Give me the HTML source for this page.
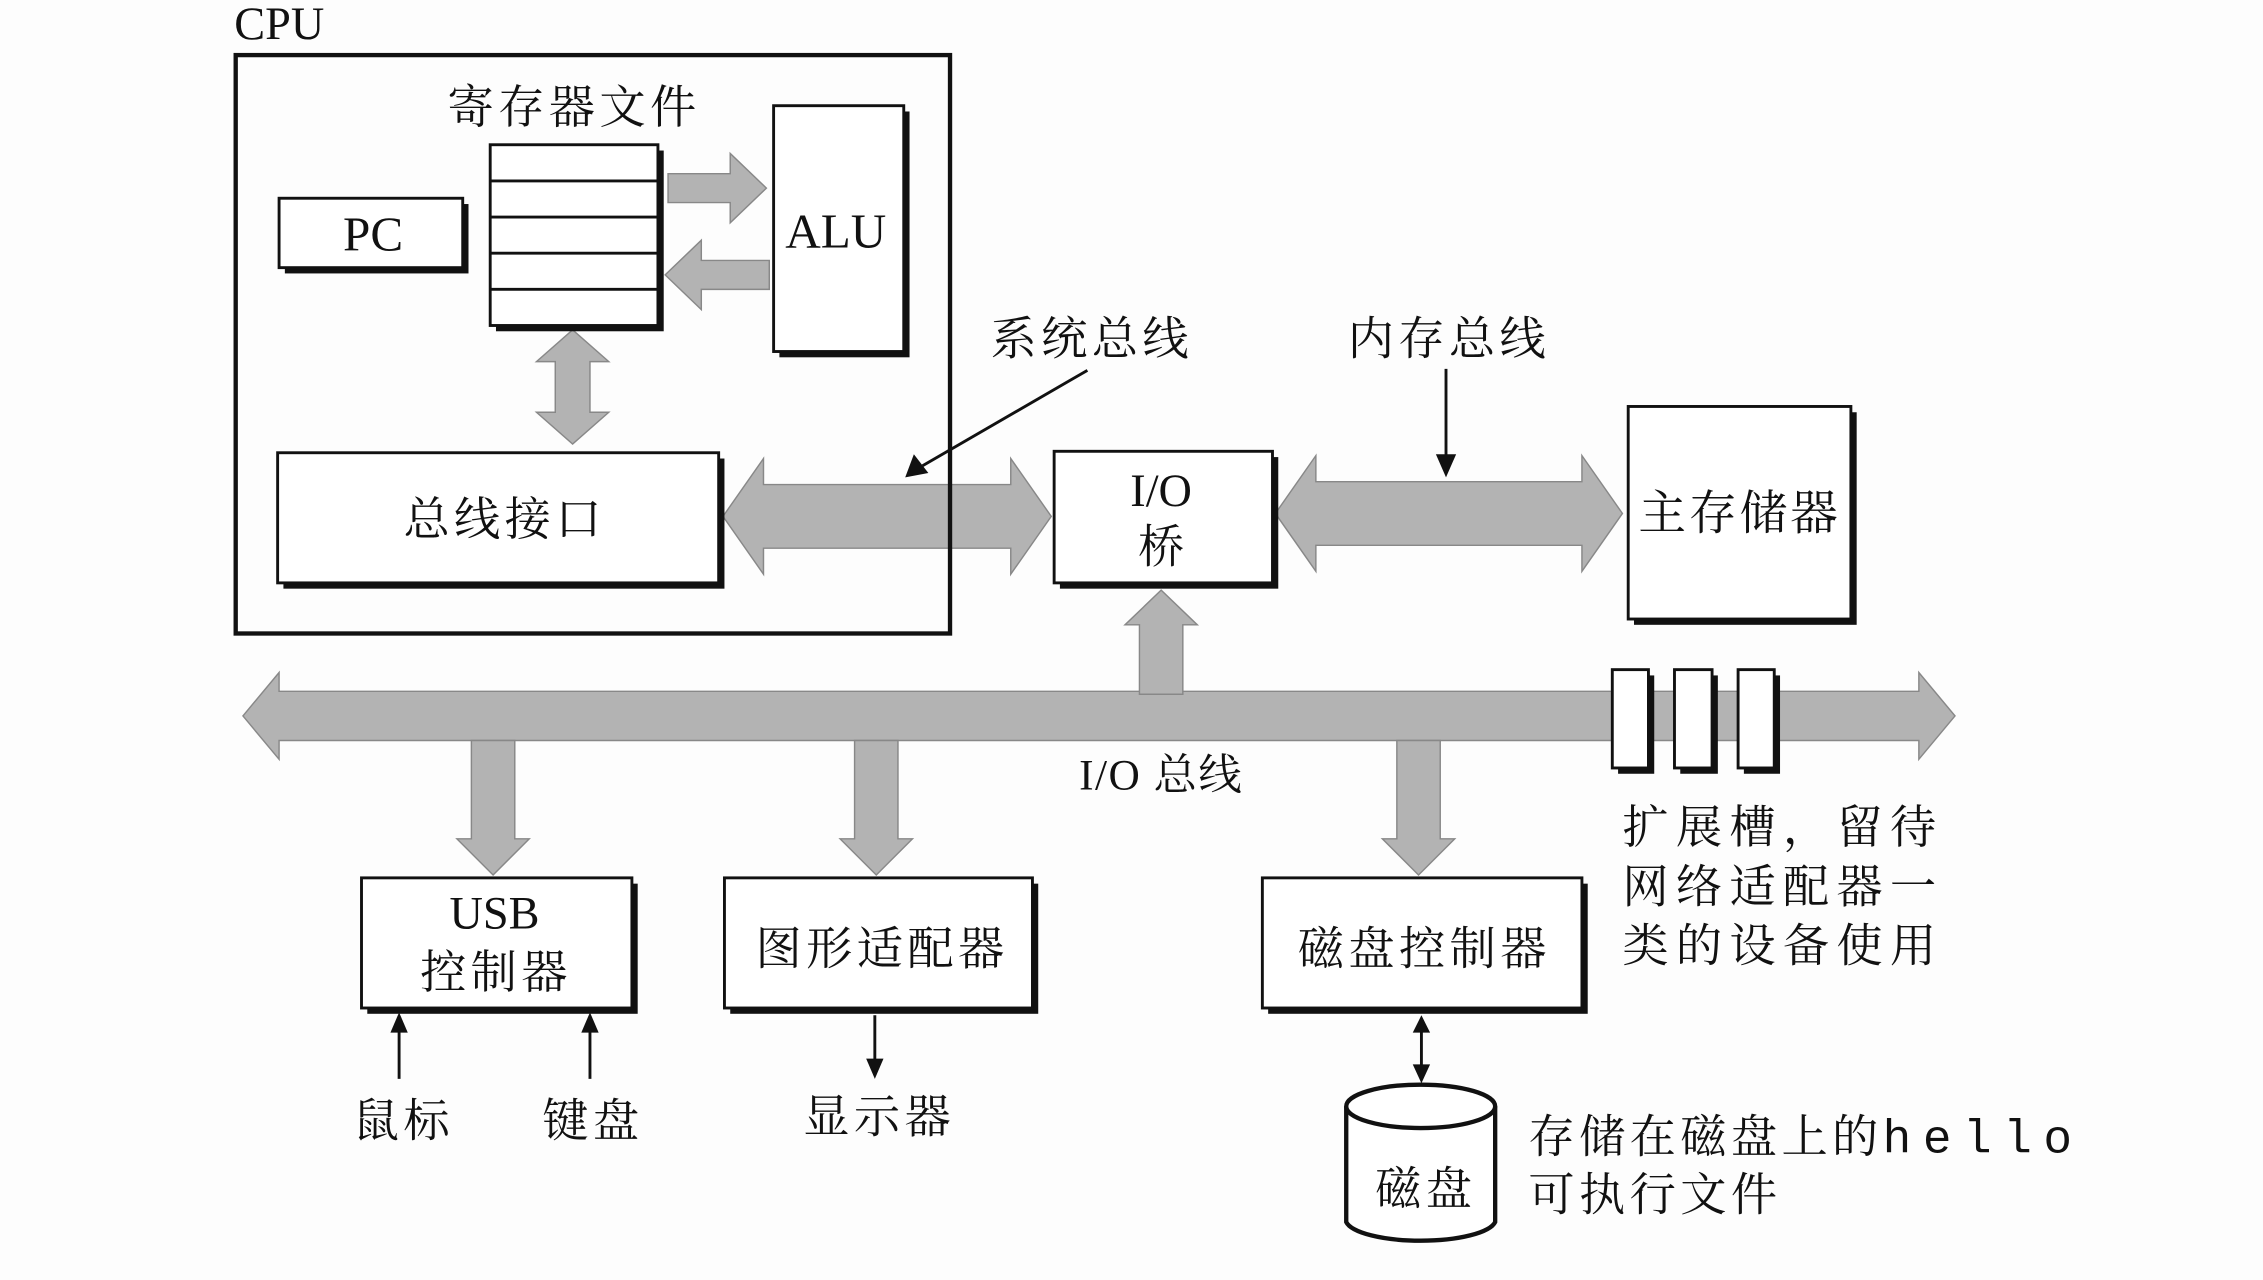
<!DOCTYPE html>
<html><head><meta charset="utf-8"><style>html,body{margin:0;padding:0;background:#fff}svg{display:block}</style></head><body>
<svg xmlns="http://www.w3.org/2000/svg" width="2263" height="1280" viewBox="0 0 1565 885">
<rect width="1565" height="885" fill="#fdfdfd"/>
<g font-family="'Liberation Serif','Noto Serif CJK SC',serif" fill="#111">
<g fill="#b3b3b3" stroke="#888" stroke-width="1">
<polygon points="500,357 528,317 528,335 699,335 699,317 727,357 699,397 699,379 528,379 528,397"/>
<polygon points="882,355 910,315 910,333 1094,333 1094,315 1122,355 1094,395 1094,377 910,377 910,395"/>
<polygon points="168,495 193,465 193,478 1327,478 1327,465 1352,495 1327,525 1327,512 193,512 193,525"/>
<polygon points="462,120 505,120 505,106 530,130 505,154 505,140 462,140"/>
<polygon points="532,180 485,180 485,166 460,190 485,214 485,200 532,200"/>
<polygon points="384,250 371,250 396,228 421,250 408,250 408,285 421,285 396,307 371,285 384,285"/>
<polygon points="326,512 356,512 356,580 366,580 341,605 316,580 326,580"/>
<polygon points="591,512 621,512 621,580 631,580 606,605 581,580 591,580"/>
<polygon points="966,512 996,512 996,580 1006,580 981,605 956,580 966,580"/>
<polygon points="788,480 818,480 818,432 828,432 803,408 778,432 788,432"/>
</g>
<g font-size="32" letter-spacing="3">
<text x="162" y="27" font-size="32" letter-spacing="0">CPU</text>
<rect x="163" y="38" width="494" height="400" fill="none" stroke="#111" stroke-width="3"/>
<text x="397" y="85" text-anchor="middle">寄存器文件</text>
<rect x="343" y="104" width="116" height="125" fill="#111"/>
<rect x="339" y="100" width="116" height="125" fill="#fff" stroke="#111" stroke-width="2"/>
<g stroke="#111" stroke-width="2"><line x1="339" y1="125" x2="455" y2="125"/><line x1="339" y1="150" x2="455" y2="150"/><line x1="339" y1="175" x2="455" y2="175"/><line x1="339" y1="200" x2="455" y2="200"/></g>
<rect x="197" y="141" width="127" height="48" fill="#111"/>
<rect x="193" y="137" width="127" height="48" fill="#fff" stroke="#111" stroke-width="2"/>
<text x="258" y="173" font-size="34" letter-spacing="0" text-anchor="middle">PC</text>
<rect x="539" y="77" width="90" height="170" fill="#111"/>
<rect x="535" y="73" width="90" height="170" fill="#fff" stroke="#111" stroke-width="2"/>
<text x="578" y="171" font-size="34" letter-spacing="0" text-anchor="middle">ALU</text>
<rect x="196" y="317" width="305" height="90" fill="#111"/>
<rect x="192" y="313" width="305" height="90" fill="#fff" stroke="#111" stroke-width="2"/>
<text x="349" y="370" text-anchor="middle">总线接口</text>
<rect x="733" y="316" width="151" height="91" fill="#111"/>
<rect x="729" y="312" width="151" height="91" fill="#fff" stroke="#111" stroke-width="2"/>
<text x="803" y="350" letter-spacing="0" text-anchor="middle">I/O</text>
<text x="803" y="389" letter-spacing="0" text-anchor="middle">桥</text>
<rect x="1130" y="285" width="154" height="147" fill="#111"/>
<rect x="1126" y="281" width="154" height="147" fill="#fff" stroke="#111" stroke-width="2"/>
<text x="1203" y="366" font-size="33" letter-spacing="2" text-anchor="middle">主存储器</text>
<text x="755" y="245" text-anchor="middle">系统总线</text>
<line x1="752" y1="256" x2="638" y2="322" stroke="#111" stroke-width="2"/>
<polygon points="626,330 632,314 642,327" fill="#111"/>
<text x="1002" y="245" text-anchor="middle">内存总线</text>
<line x1="1000" y1="255" x2="1000" y2="316" stroke="#111" stroke-width="2"/>
<polygon points="993,314 1007,314 1000,330" fill="#111"/>
<text x="803" y="546" font-size="30" letter-spacing="1" text-anchor="middle">I/O 总线</text>
<rect x="1119" y="467" width="25" height="68" fill="#111"/><rect x="1115" y="463" width="25" height="68" fill="#fff" stroke="#111" stroke-width="2"/>
<rect x="1162" y="467" width="26" height="68" fill="#111"/><rect x="1158" y="463" width="26" height="68" fill="#fff" stroke="#111" stroke-width="2"/>
<rect x="1206" y="467" width="25" height="68" fill="#111"/><rect x="1202" y="463" width="25" height="68" fill="#fff" stroke="#111" stroke-width="2"/>
<text x="1122" y="583" letter-spacing="5">扩展槽，留待</text>
<text x="1122" y="624" letter-spacing="5">网络适配器一</text>
<text x="1122" y="665" letter-spacing="5">类的设备使用</text>
<rect x="254" y="611" width="187" height="90" fill="#111"/>
<rect x="250" y="607" width="187" height="90" fill="#fff" stroke="#111" stroke-width="2"/>
<text x="342" y="642" letter-spacing="0" text-anchor="middle">USB</text>
<text x="343" y="683" text-anchor="middle">控制器</text>
<rect x="505" y="611" width="213" height="90" fill="#111"/>
<rect x="501" y="607" width="213" height="90" fill="#fff" stroke="#111" stroke-width="2"/>
<text x="610" y="667" text-anchor="middle">图形适配器</text>
<rect x="877" y="611" width="221" height="90" fill="#111"/>
<rect x="873" y="607" width="221" height="90" fill="#fff" stroke="#111" stroke-width="2"/>
<text x="985" y="667" text-anchor="middle">磁盘控制器</text>
<g stroke="#111" stroke-width="2">
<line x1="276" y1="746" x2="276" y2="712"/><line x1="408" y1="746" x2="408" y2="712"/>
<line x1="605" y1="702" x2="605" y2="734"/><line x1="983" y1="712" x2="983" y2="738"/>
</g>
<g fill="#111">
<polygon points="270,714 282,714 276,700"/><polygon points="402,714 414,714 408,700"/>
<polygon points="599,732 611,732 605,746"/>
<polygon points="977,714 989,714 983,702"/><polygon points="977,736 989,736 983,749"/>
</g>
<text x="279" y="786" text-anchor="middle">鼠标</text>
<text x="410" y="786" text-anchor="middle">键盘</text>
<text x="608" y="783" text-anchor="middle">显示器</text>
<path d="M931,765 L931,845 A52,15 0 0 0 1034,845 L1034,765" fill="#fff" stroke="#111" stroke-width="3"/>
<ellipse cx="982.5" cy="765" rx="51.5" ry="15" fill="#fff" stroke="#111" stroke-width="3"/>
<text x="986" y="833" text-anchor="middle">磁盘</text>
<text x="1057" y="797">存储在磁盘上的<tspan font-family="'Liberation Mono',monospace" font-size="33" letter-spacing="8">hello</tspan></text>
<text x="1057" y="837">可执行文件</text>
</g>
</g>
</svg>
</body></html>
